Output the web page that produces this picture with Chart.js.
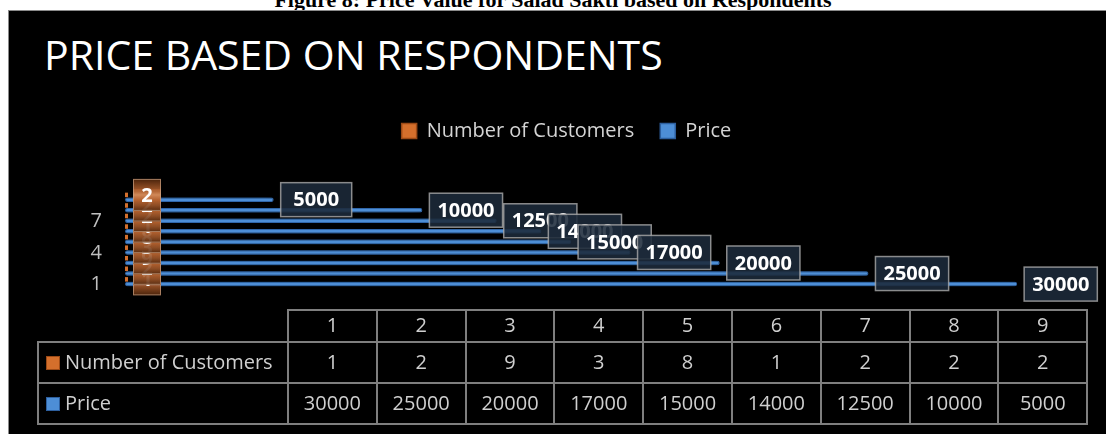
<!DOCTYPE html>
<html>
<head>
<meta charset="utf-8">
<title>Price based on respondents</title>
<script src="https://cdn.jsdelivr.net/npm/chart.js@4.4.1/dist/chart.umd.min.js"></script>
<style>
  html, body { margin: 0; padding: 0; background: #fff; width: 1106px; height: 434px; overflow: hidden; }
  #caption {
    position: absolute; left: 0; top: -11px; width: 1106px; text-align: center;
    font: bold 22px/22px "Liberation Serif", "Times New Roman", serif; color: #000;
  }
  #box {
    position: absolute; left: 8px; top: 10px; width: 1200px; height: 500px;
    background: #000; border: 1px solid #8a8a8a;
  }
  #title {
    position: absolute; left: 35px; top: 23px; white-space: nowrap;
    font: 41px/41px "Open Sans", sans-serif; color: #fff;
  }
  #wrap { position: absolute; left: 0; top: 0; width: 1097px; height: 421px; }
  #dataTable {
    position: absolute; left: 28px; top: 298px;
    border-collapse: collapse; table-layout: fixed;
    font: 20px "Open Sans", sans-serif; color: #cfcfcf;
  }
  #dataTable td { border: 2px solid #7f7f7f; text-align: center; padding: 0 0 3px 0; white-space: nowrap; }
  #dataTable tr.head td { height: 25px; }
  #dataTable tr.row td { height: 36px; }
  #dataTable td.blank { border-top: none; border-left: none; }
  #dataTable td.name { text-align: left; padding-left: 7px; }
  .key { display: inline-block; width: 14px; height: 14px; margin-right: 5px; vertical-align: -1px; box-sizing: border-box; }
</style>
</head>
<body>
<div id="caption">Figure 8: Price Value for Salad Sakti based on Respondents</div>
<div id="box">
  <div id="title">PRICE BASED ON RESPONDENTS</div>
  <div id="wrap"><canvas id="chart"></canvas></div>
  <table id="dataTable"></table>
</div>
<script>
// ----- data -----
const categories = ["1", "2", "3", "4", "5", "6", "7", "8", "9"];
const customers = [1, 2, 9, 3, 8, 1, 2, 2, 2];
const prices = [30000, 25000, 20000, 17000, 15000, 14000, 12500, 10000, 5000];
const seriesNames = ["Number of Customers", "Price"];
const shownTicks = ["1", "4", "7"];

const orange = "#d46f2c";
const orangeEdge = "#9c4a16";
const blue = "#4d8ed6";
const blueEdge = "#2d5f9e";
const FONT = '"Open Sans", sans-serif';

// soft glow under the price bars
const barGlow = {
  id: "barGlow",
  beforeDatasetDraw(chart, args) {
    const c = chart.ctx;
    c.save();
    if (args.index === 1) {
      c.shadowColor = "rgba(70,140,225,0.9)";
      c.shadowBlur = 8;
    }
  },
  afterDatasetDraw(chart) {
    chart.ctx.restore();
  }
};

// boxed value labels at the end of each bar
const labelBoxes = {
  id: "labelBoxes",
  afterDatasetsDraw(chart) {
    const ctx = chart.ctx;
    ctx.save();
    ctx.font = "bold 20px " + FONT;
    ctx.textAlign = "center";
    ctx.textBaseline = "middle";

    // customers: one narrow box per bar, bottom first so the top one ends up clearest
    const m0 = chart.getDatasetMeta(0);
    m0.data.forEach((bar, i) => {
      const w = 28, h = 32;
      const x = bar.x + 5, y = bar.y - h / 2;
      const g = ctx.createLinearGradient(0, y, 0, y + h);
      g.addColorStop(0, "rgba(80,38,12,0.9)");
      g.addColorStop(0.35, "rgba(185,100,48,0.85)");
      g.addColorStop(0.5, "rgba(225,150,100,0.85)");
      g.addColorStop(0.65, "rgba(185,100,48,0.85)");
      g.addColorStop(1, "rgba(80,38,12,0.9)");
      ctx.fillStyle = g;
      ctx.fillRect(x, y, w, h);
      ctx.strokeStyle = "rgba(200,160,130,0.7)";
      ctx.lineWidth = 1;
      ctx.strokeRect(x + 0.5, y + 0.5, w - 1, h - 1);
      ctx.fillStyle = "#ffffff";
      ctx.fillText(String(customers[i]), x + w / 2, bar.y + 1);
    });

    // prices: top category first, lower ones drawn over it
    const m1 = chart.getDatasetMeta(1);
    for (let i = m1.data.length - 1; i >= 0; i--) {
      const bar = m1.data[i];
      const txt = String(prices[i]);
      const w = Math.max(ctx.measureText(txt).width + 16, 71), h = 34;
      const x = bar.x + 7, y = bar.y - h / 2;
      ctx.fillStyle = "rgba(28,42,58,0.88)";
      ctx.fillRect(x, y, w, h);
      ctx.strokeStyle = "rgba(170,170,170,0.8)";
      ctx.lineWidth = 1.5;
      ctx.strokeRect(x, y, w, h);
      ctx.fillStyle = "#ffffff";
      ctx.fillText(txt, x + w / 2, bar.y + 1);
    }
    ctx.restore();
  }
};

new Chart(document.getElementById("chart"), {
  type: "bar",
  data: {
    labels: categories,
    datasets: [
      {
        label: seriesNames[0],
        data: customers,
        backgroundColor: orange,
        borderColor: orangeEdge,
        borderWidth: 0,
        minBarLength: 3,
        barPercentage: 0.95,
        categoryPercentage: 0.9
      },
      {
        label: seriesNames[1],
        data: prices,
        backgroundColor: blue,
        borderColor: blueEdge,
        borderWidth: 1,
        borderRadius: 2,
        borderSkipped: false,
        barPercentage: 0.95,
        categoryPercentage: 0.9
      }
    ]
  },
  options: {
    indexAxis: "y",
    responsive: true,
    maintainAspectRatio: false,
    animation: false,
    layout: { padding: { top: 84, left: 34, right: 16, bottom: 145 } },
    plugins: {
      title: { display: false },
      tooltip: { enabled: false },
      legend: {
        position: "top",
        labels: {
          color: "#d4d4d4",
          font: { family: FONT, size: 20 },
          boxWidth: 15,
          boxHeight: 15,
          padding: 26,
          generateLabels(chart) {
            return chart.data.datasets.map((ds, i) => ({
              text: ds.label,
              fillStyle: i === 0 ? orange : blue,
              strokeStyle: i === 0 ? orangeEdge : blueEdge,
              lineWidth: 1.5,
              fontColor: "#d4d4d4",
              datasetIndex: i
            }));
          }
        }
      }
    },
    scales: {
      x: {
        position: "top",
        min: 0,
        max: 32450,
        grid: { display: false, drawTicks: false },
        border: { display: false },
        ticks: { display: false },
        afterFit(scale) { scale.height = 41; }
      },
      y: {
        reverse: true,
        grid: { display: false, drawTicks: false },
        border: { display: false },
        ticks: {
          autoSkip: false,
          padding: 23,
          labelOffset: 3,
          color: "#bfbfbf",
          font: { family: FONT, size: 20 },
          callback(value, index) {
            return shownTicks.includes(categories[index]) ? categories[index] : "";
          }
        },
        afterFit(scale) { scale.width = 82; }
      }
    }
  },
  plugins: [barGlow, labelBoxes]
});

// ----- data table under the chart, built from the same arrays -----
const table = document.getElementById("dataTable");
let html = '<colgroup><col style="width:250px">';
categories.forEach(() => { html += '<col style="width:88.8px">'; });
html += "</colgroup>";
html += '<tr class="head"><td class="blank"></td>' + categories.map(c => "<td>" + c + "</td>").join("") + "</tr>";
html += '<tr class="row"><td class="name"><span class="key" style="background:' + orange + ';border:1.5px solid ' + orangeEdge + '"></span>' + seriesNames[0] + "</td>" +
  customers.map(v => "<td>" + v + "</td>").join("") + "</tr>";
html += '<tr class="row"><td class="name"><span class="key" style="background:' + blue + ';border:1.5px solid ' + blueEdge + '"></span>' + seriesNames[1] + "</td>" +
  prices.map(v => "<td>" + v + "</td>").join("") + "</tr>";
table.innerHTML = html;
</script>
</body>
</html>
